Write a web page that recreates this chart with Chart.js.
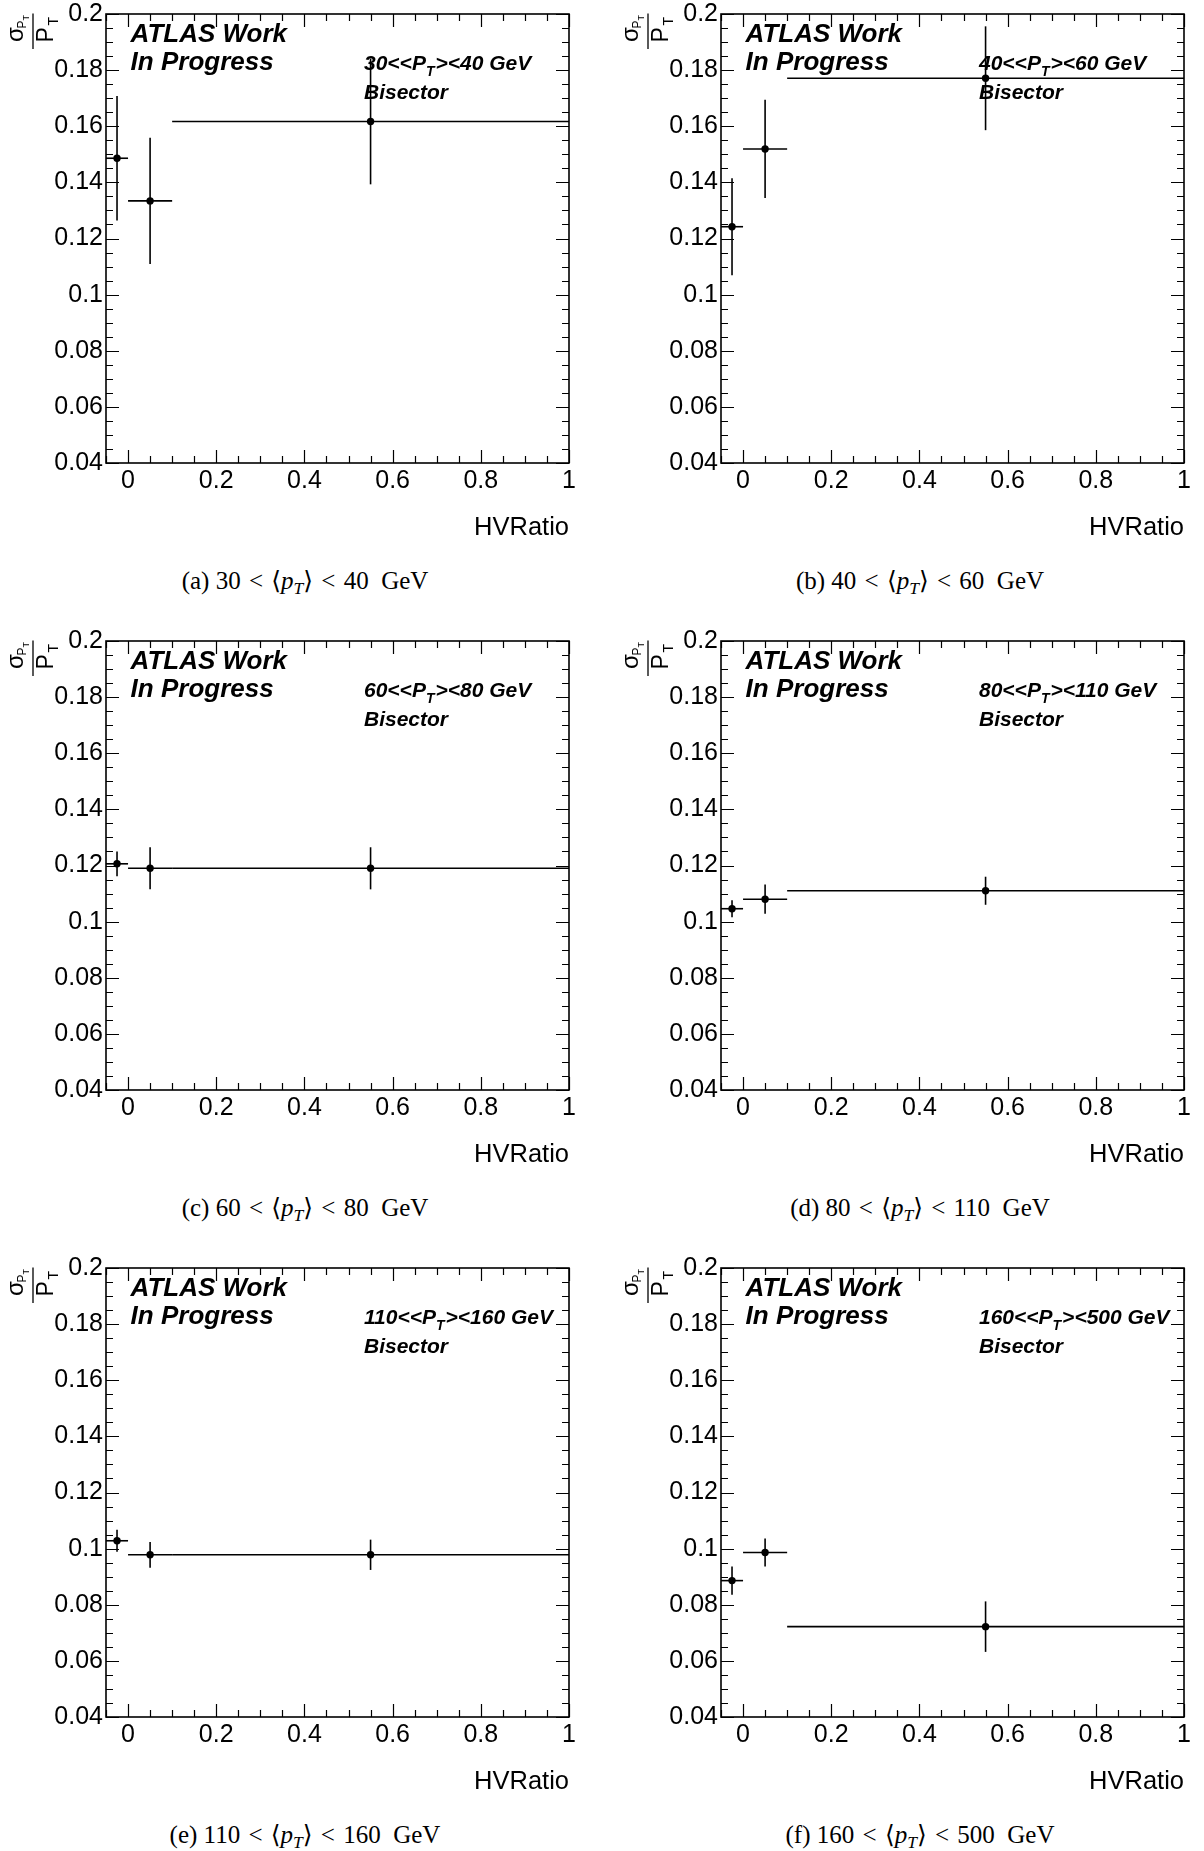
<!DOCTYPE html>
<html><head><meta charset="utf-8">
<script src="https://cdn.jsdelivr.net/npm/chart.js@4.4.0/dist/chart.umd.min.js"></script>
<style>
html,body{margin:0;padding:0;background:#fff;width:1204px;height:1851px;overflow:hidden;position:relative}
canvas{position:absolute}
.cap{position:absolute;width:600px;text-align:center;font-family:"Liberation Serif","DejaVu Serif",serif;font-size:25px;color:#000;line-height:28px;white-space:pre}
.cap i{font-style:italic}
.cap sub{font-size:70%;vertical-align:-0.3em;line-height:0}
.cap .rel{margin:0 0.33em}
</style></head><body>
<script>
// ---------- data ----------
const panelTags = ['a','b','c','d','e','f'];
const ptLow  = [30, 40, 60, 80, 110, 160];
const ptHigh = [40, 60, 80, 110, 160, 500];
const xCenters = [-0.025, 0.05, 0.55];
const xBinLow  = [-0.05, 0.0, 0.1];
const xBinHigh = [0.0, 0.1, 1.0];
const yA = [0.1486, 0.1334, 0.1617]; const errA = [0.0222, 0.0225, 0.0224];
const yB = [0.1242, 0.1519, 0.1771]; const errB = [0.0173, 0.0175, 0.0185];
const yC = [0.1206, 0.1190, 0.1190]; const errC = [0.0044, 0.0075, 0.0075];
const yD = [0.1046, 0.1080, 0.1110]; const errD = [0.0030, 0.0052, 0.0050];
const yE = [0.1028, 0.0978, 0.0978]; const errE = [0.0039, 0.0046, 0.0054];
const yF = [0.0886, 0.0986, 0.0722]; const errF = [0.0050, 0.0050, 0.0090];
const xTickValues = [0, 0.2, 0.4, 0.6, 0.8, 1];
const xTickLabels = ['0', '0.2', '0.4', '0.6', '0.8', '1'];
const yTickValues = [0.04, 0.06, 0.08, 0.1, 0.12, 0.14, 0.16, 0.18, 0.2];
const yTickLabels = ['0.04', '0.06', '0.08', '0.1', '0.12', '0.14', '0.16', '0.18', '0.2'];
const xMin = -0.05, xMax = 1.0, yMin = 0.04, yMax = 0.2;
const xMinorStep = 0.05, yMinorStep = 0.005;
const xTitle = 'HVRatio';
const atlasLines = ['ATLAS Work', 'In Progress'];
const methodLabel = 'Bisector';

const seriesY = [yA, yB, yC, yD, yE, yF];
const seriesErr = [errA, errB, errC, errD, errE, errF];

// ---------- layout ----------
const SANS = '"Liberation Sans", Arial, Helvetica, sans-serif';
const colX = [0, 615];
const plotTops = [14, 641, 1268];
const CW = 589, CH = 580, PADTOP = 30, XAXH = 50;

function drawRich(ctx, parts, x, y) {
  let cx = x;
  for (const p of parts) {
    ctx.font = p.f;
    ctx.fillText(p.t, cx, y + (p.dy || 0));
    cx += ctx.measureText(p.t).width + (p.gap || 0);
  }
}

const rootPlugin = {
  id: 'rootStyle',
  afterDatasetsDraw(chart, args, opts) {
    const ctx = chart.ctx, a = chart.chartArea;
    const xs = chart.scales.x, ys = chart.scales.y;
    ctx.save();
    ctx.strokeStyle = '#000';
    ctx.lineWidth = 1.6;
    ctx.strokeRect(a.left, a.top, a.right - a.left, a.bottom - a.top);
    ctx.lineWidth = 1.2;
    ctx.beginPath();
    const nX = Math.round((xMax - xMin) / xMinorStep);
    for (let k = 0; k <= nX; k++) {
      const v = xMin + k * xMinorStep;
      const major = xTickValues.some(t => Math.abs(t - v) < 1e-9);
      const L = major ? 13 : 7;
      const px = Math.round(xs.getPixelForValue(v)) + 0.5;
      ctx.moveTo(px, a.bottom); ctx.lineTo(px, a.bottom - L);
      ctx.moveTo(px, a.top); ctx.lineTo(px, a.top + L);
    }
    const nY = Math.round((yMax - yMin) / yMinorStep);
    for (let k = 0; k <= nY; k++) {
      const v = yMin + k * yMinorStep;
      const major = yTickValues.some(t => Math.abs(t - v) < 1e-9);
      const L = major ? 13 : 7;
      const py = Math.round(ys.getPixelForValue(v)) + 0.5;
      ctx.moveTo(a.left, py); ctx.lineTo(a.left + L, py);
      ctx.moveTo(a.right, py); ctx.lineTo(a.right - L, py);
    }
    ctx.stroke();
    ctx.restore();
  },
  afterDraw(chart, args, opts) {
    const ctx = chart.ctx, a = chart.chartArea;
    ctx.save();
    ctx.fillStyle = '#000';
    ctx.textBaseline = 'alphabetic';
    ctx.textAlign = 'left';
    // ATLAS label
    ctx.font = 'italic bold 26px ' + SANS;
    ctx.fillText(atlasLines[0], a.left + 24.6, a.top + 27.5);
    ctx.fillText(atlasLines[1], a.left + 24.6, a.top + 56);
    // pT range label
    const big = 'italic bold 21px ' + SANS, small = 'italic bold 14px ' + SANS;
    drawRich(ctx, [
      {t: opts.lo + '<<P', f: big},
      {t: 'T', f: small, dy: 6, gap: 1},
      {t: '><' + opts.hi + ' GeV', f: big}
    ], a.left + 258, a.top + 56.3);
    ctx.font = big;
    ctx.fillText(methodLabel, a.left + 258, a.top + 85);
    // x title
    ctx.font = '25.5px ' + SANS;
    ctx.textAlign = 'right';
    ctx.fillText(xTitle, a.right, a.bottom + 72);
    // y title: sigma_{P_T} / P_T rotated
    ctx.textAlign = 'left';
    ctx.translate(a.left - 73, a.top);
    ctx.rotate(-Math.PI / 2);
    ctx.lineWidth = 1.3;
    ctx.strokeStyle = '#000';
    ctx.beginPath(); ctx.moveTo(-35, 0); ctx.lineTo(0.5, 0); ctx.stroke();
    ctx.font = '24px ' + SANS; ctx.fillText('σ', -28, -10.5);
    ctx.font = '12px ' + SANS; ctx.fillText('P', -14.5, -7.5);
    ctx.font = '9px ' + SANS; ctx.fillText('T', -6.5, -4.5);
    ctx.font = '23px ' + SANS; ctx.fillText('P', -28.5, 20);
    ctx.font = '14px ' + SANS; ctx.fillText('T', -11.5, 25);
    ctx.restore();
  }
};

for (let i = 0; i < 6; i++) {
  const col = i % 2, row = Math.floor(i / 2);
  const cv = document.createElement('canvas');
  cv.width = CW; cv.height = CH;
  cv.style.left = colX[col] + 'px';
  cv.style.top = (plotTops[row] - PADTOP) + 'px';
  cv.style.width = CW + 'px'; cv.style.height = CH + 'px';
  document.body.appendChild(cv);

  const ys = seriesY[i], es = seriesErr[i];
  const datasets = [{
    label: 'points',
    data: xCenters.map((x, k) => ({x: x, y: ys[k]})),
    pointRadius: 3.7, pointBackgroundColor: '#000', pointBorderWidth: 0,
    showLine: false
  }];
  xCenters.forEach((x, k) => {
    datasets.push({
      data: [{x: xBinLow[k], y: ys[k]}, {x: xBinHigh[k], y: ys[k]}],
      showLine: true, pointRadius: 0, borderColor: '#000', borderWidth: 1.6, tension: 0
    });
    datasets.push({
      data: [{x: x, y: ys[k] - es[k]}, {x: x, y: ys[k] + es[k]}],
      showLine: true, pointRadius: 0, borderColor: '#000', borderWidth: 1.6, tension: 0
    });
  });

  new Chart(cv.getContext('2d'), {
    type: 'scatter',
    data: {datasets},
    plugins: [rootPlugin],
    options: {
      responsive: false, maintainAspectRatio: false, animation: false, devicePixelRatio: 1,
      events: [],
      layout: {padding: {left: 0, right: CW - 569, top: PADTOP, bottom: CH - PADTOP - 449 - XAXH}},
      plugins: {legend: {display: false}, tooltip: {enabled: false},
                rootStyle: {lo: ptLow[i], hi: ptHigh[i]}},
      scales: {
        x: {
          type: 'linear', min: xMin, max: xMax,
          afterBuildTicks: s => { s.ticks = xTickValues.map(v => ({value: v})); },
          afterFit: s => { s.height = XAXH; },
          grid: {display: false, drawTicks: false}, border: {display: false},
          ticks: {autoSkip: false, maxRotation: 0, padding: 3, color: '#000',
                  font: {family: SANS, size: 25},
                  callback: (v, idx) => xTickLabels[idx]}
        },
        y: {
          type: 'linear', min: yMin, max: yMax,
          afterBuildTicks: s => { s.ticks = yTickValues.map(v => ({value: v})); },
          afterFit: s => { s.width = 106; },
          grid: {display: false, drawTicks: false}, border: {display: false},
          ticks: {autoSkip: false, padding: 3, color: '#000',
                  font: {family: SANS, size: 25},
                  callback: (v, idx) => yTickLabels[idx]}
        }
      }
    }
  });

  const cap = document.createElement('div');
  cap.className = 'cap';
  cap.style.left = (colX[col] + 305 - 300) + 'px';
  cap.style.top = (plotTops[row] + 567 - 14) + 'px';
  cap.innerHTML = '(' + panelTags[i] + ') ' + ptLow[i] + '<span class="rel">&lt;</span>⟨<i>p<sub>T</sub></i>⟩<span class="rel">&lt;</span>' + ptHigh[i] + '  GeV';
  document.body.appendChild(cap);
}
</script>
</body></html>
